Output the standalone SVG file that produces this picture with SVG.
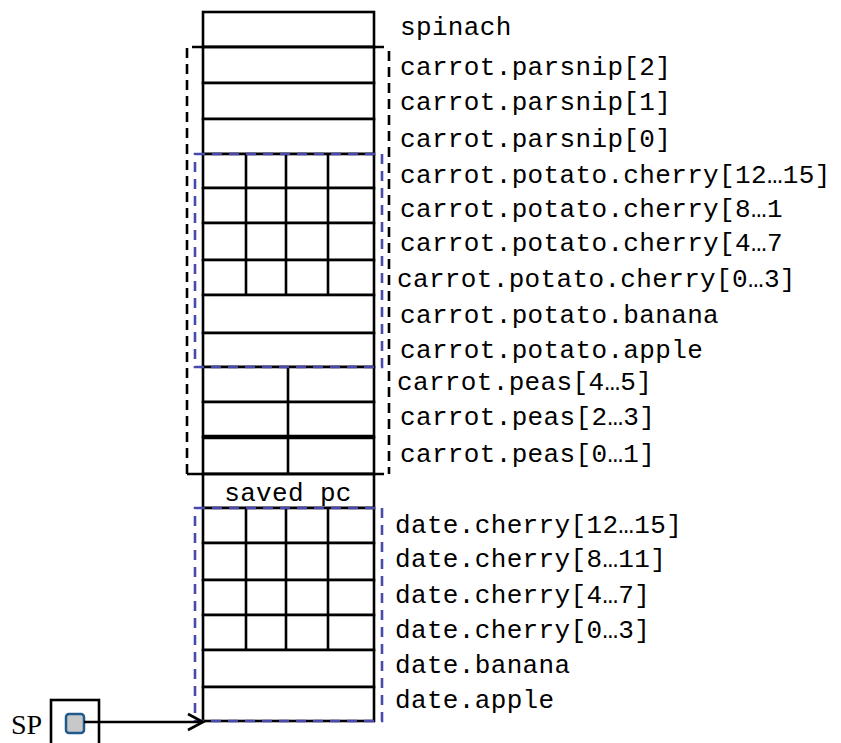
<svg xmlns="http://www.w3.org/2000/svg" width="841" height="743" viewBox="0 0 841 743">
<style>
.cell{fill:#fff;stroke:#000;stroke-width:2.6}
.ln{stroke:#000;stroke-width:2.6;fill:none}
.lbl{font-family:"Liberation Mono","Courier New",monospace;font-size:26px;letter-spacing:0.35px;fill:#000}
.bd{fill:none;stroke:#4a4aae;stroke-width:2.6;stroke-dasharray:10 7}
.kd{fill:none;stroke:#000;stroke-width:2.6;stroke-dasharray:10 6}
</style>
<defs>
<marker id="open" markerWidth="20" markerHeight="22" refX="17" refY="11" orient="auto" markerUnits="userSpaceOnUse">
<path d="M2,3 L17,11 L2,19" fill="none" stroke="#000" stroke-width="2.6"/>
</marker>
</defs>
<rect width="841" height="743" fill="#fff"/>

<g id="spinach"><rect class="cell" x="203" y="12" width="171" height="35"/><text class="lbl" x="400" y="35">spinach</text></g>
<g id="parsnip2"><rect class="cell" x="203" y="47" width="171" height="36"/><text class="lbl" x="400" y="75">carrot.parsnip[2]</text></g>
<g id="parsnip1"><rect class="cell" x="203" y="83" width="171" height="36"/><text class="lbl" x="400" y="110">carrot.parsnip[1]</text></g>
<g id="parsnip0"><rect class="cell" x="203" y="119" width="171" height="35"/><text class="lbl" x="400" y="147">carrot.parsnip[0]</text></g>
<g id="pcherry12"><rect class="cell" x="203" y="154" width="171" height="34"/><path class="ln" d="M246,154V188M286,154V188M328,154V188"/><text class="lbl" x="400" y="183">carrot.potato.cherry[12…15]</text></g>
<g id="pcherry8"><rect class="cell" x="203" y="188" width="171" height="35"/><path class="ln" d="M246,188V223M286,188V223M328,188V223"/><text class="lbl" x="400" y="217">carrot.potato.cherry[8…1</text></g>
<g id="pcherry4"><rect class="cell" x="203" y="223" width="171" height="37"/><path class="ln" d="M246,223V260M286,223V260M328,223V260"/><text class="lbl" x="400" y="251">carrot.potato.cherry[4…7</text></g>
<g id="pcherry0"><rect class="cell" x="203" y="260" width="171" height="35"/><path class="ln" d="M246,260V295M286,260V295M328,260V295"/><text class="lbl" x="397" y="287">carrot.potato.cherry[0…3]</text></g>
<g id="pbanana"><rect class="cell" x="203" y="295" width="171" height="38"/><text class="lbl" x="400" y="323">carrot.potato.banana</text></g>
<g id="papple"><rect class="cell" x="203" y="333" width="171" height="34"/><text class="lbl" x="400" y="358">carrot.potato.apple</text></g>
<g id="peas4"><rect class="cell" x="203" y="367" width="171" height="35"/><path class="ln" d="M288,367V402"/><text class="lbl" x="397" y="390">carrot.peas[4…5]</text></g>
<g id="peas2"><rect class="cell" x="203" y="402" width="171" height="35"/><path class="ln" d="M288,402V437"/><text class="lbl" x="400" y="425">carrot.peas[2…3]</text></g>
<g id="peas0"><rect class="cell" x="203" y="437" width="171" height="37"/><path class="ln" d="M288,437V474"/><path d="M203,437H374" stroke="#000" stroke-width="4.5"/><text class="lbl" x="400" y="462">carrot.peas[0…1]</text></g>
<g id="savedpc"><rect class="cell" x="203" y="474" width="171" height="34"/><text class="lbl" x="288" y="501" text-anchor="middle">saved pc</text></g>
<g id="dcherry12"><rect class="cell" x="203" y="508" width="171" height="35"/><path class="ln" d="M246,508V543M286,508V543M328,508V543"/><text class="lbl" x="395" y="533">date.cherry[12…15]</text></g>
<g id="dcherry8"><rect class="cell" x="203" y="543" width="171" height="37"/><path class="ln" d="M246,543V580M286,543V580M328,543V580"/><text class="lbl" x="395" y="567">date.cherry[8…11]</text></g>
<g id="dcherry4"><rect class="cell" x="203" y="580" width="171" height="35"/><path class="ln" d="M246,580V615M286,580V615M328,580V615"/><text class="lbl" x="395" y="603">date.cherry[4…7]</text></g>
<g id="dcherry0"><rect class="cell" x="203" y="615" width="171" height="35"/><path class="ln" d="M246,615V650M286,615V650M328,615V650"/><text class="lbl" x="395" y="638">date.cherry[0…3]</text></g>
<g id="dbanana"><rect class="cell" x="203" y="650" width="171" height="37"/><text class="lbl" x="395" y="673">date.banana</text></g>
<g id="dapple"><rect class="cell" x="203" y="687" width="171" height="34"/><text class="lbl" x="395" y="708">date.apple</text></g>

<g id="carrot">
<path class="ln" d="M203,47H384M187,474H384"/>
<path class="kd" d="M187,474V47H203"/>
<path class="kd" d="M389,51V474"/>
</g>
<g id="potato"><rect class="bd" x="195" y="154" width="187" height="213"/></g>
<g id="date"><rect class="bd" x="195" y="508" width="187" height="213"/></g>

<g id="sp">
<text x="11" y="734" font-family="Liberation Serif,Times New Roman,serif" font-size="28">SP</text>
<rect x="51" y="700" width="48" height="60" fill="#fff" stroke="#000" stroke-width="2.6"/>
<rect x="66" y="714" width="18" height="19" rx="3" fill="#c8c8c8" stroke="#1f5a8a" stroke-width="2.5"/>
</g>
<g id="connectors">
<path d="M84,722H203" fill="none" stroke="#000" stroke-width="2.4" marker-end="url(#open)"/>
</g>
</svg>
